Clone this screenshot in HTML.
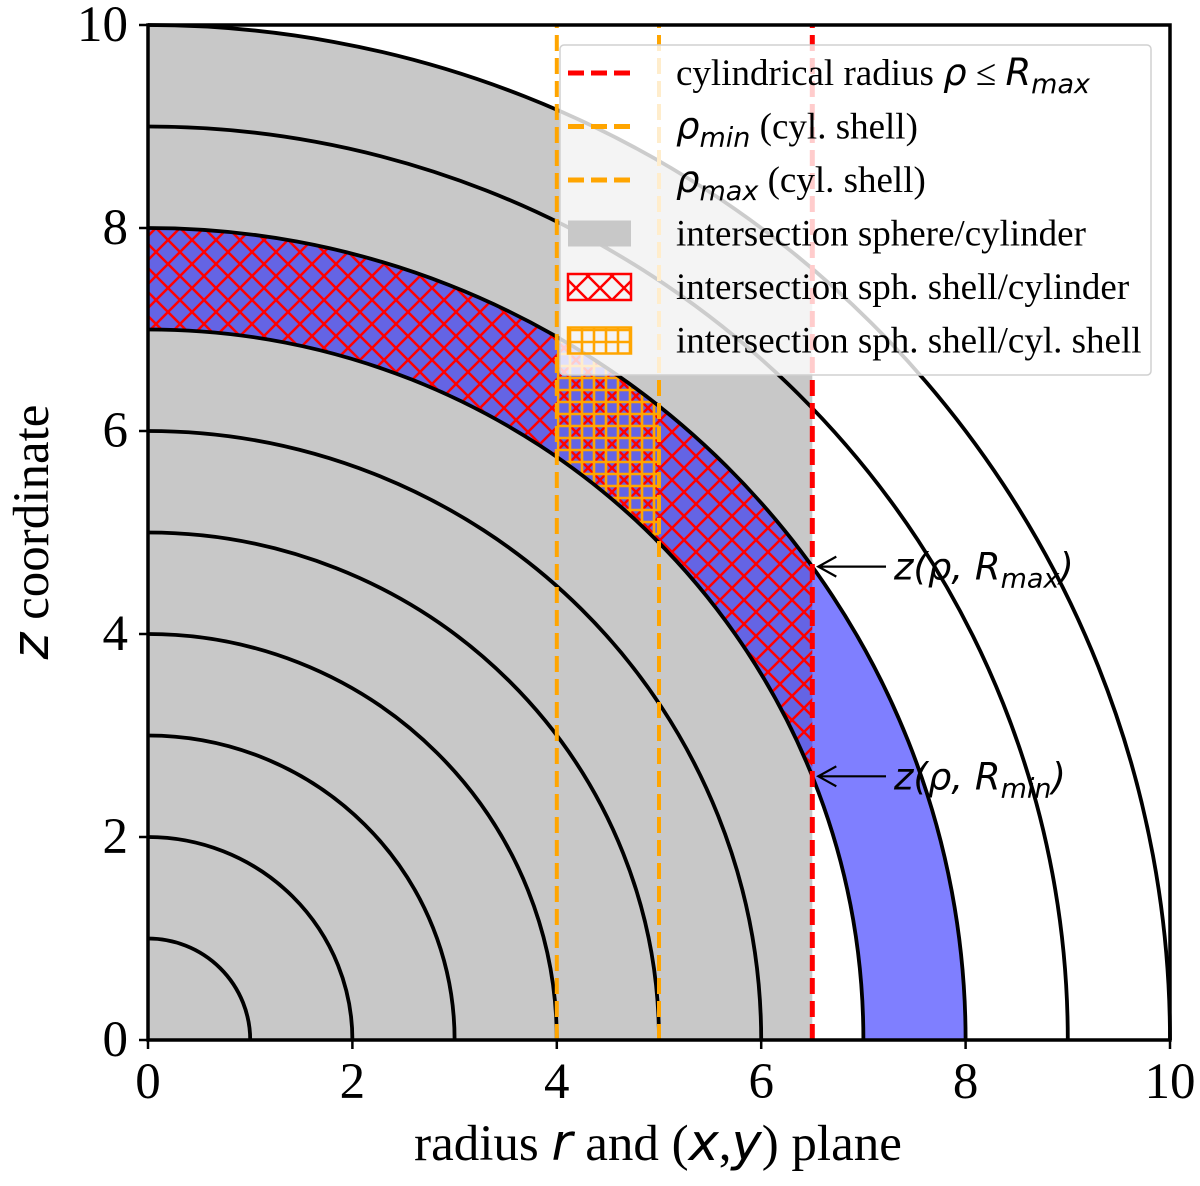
<!DOCTYPE html>
<html><head><meta charset="utf-8"><style>
html,body{margin:0;padding:0;background:#fff;}
svg{display:block;font-family:"Liberation Serif",serif;}
</style></head><body>
<svg id="chart" width="1200" height="1186" viewBox="0 0 1200 1186">
<defs>
<pattern id="xhatch" patternUnits="userSpaceOnUse" width="24" height="24">
<path d="M0,0L24,24M24,0L0,24" stroke="#ff0000" stroke-width="2.5" fill="none"/>
</pattern>
<pattern id="phatch" patternUnits="userSpaceOnUse" width="12" height="12">
<path d="M6,0V12M0,6H12" stroke="#ffa500" stroke-width="2.6" fill="none"/>
</pattern>
</defs>
<g id="plot"></g>
<text x="658" y="1160" font-size="51" text-anchor="middle">radius <tspan font-family="'DejaVu Sans',sans-serif" font-style="italic">r</tspan> and  (<tspan font-family="'DejaVu Sans',sans-serif" font-style="italic">x</tspan>,<tspan font-family="'DejaVu Sans',sans-serif" font-style="italic">y</tspan>) plane</text>
<text transform="translate(48,532) rotate(-90)" font-size="51" text-anchor="middle"><tspan font-family="'DejaVu Sans',sans-serif" font-style="italic">z</tspan> coordinate</text>
</svg>
<script>
const radii=[1,2,3,4,5,6,7,8,9,10];
const xTicks=[0,2,4,6,8,10];
const yTicks=[0,2,4,6,8,10];
const cylRmax=6.5;
const shellRhoMin=4, shellRhoMax=5;
const sphRmin=7, sphRmax=8;
const outerR=10;
const annotations=[{label:"max",z:Math.sqrt(sphRmax*sphRmax-cylRmax*cylRmax)},{label:"min",z:Math.sqrt(sphRmin*sphRmin-cylRmax*cylRmax)}];

const NS="http://www.w3.org/2000/svg";
const X=v=>148+v*102.2, Y=v=>1040-v*101.5;
const g=document.getElementById('plot');
function el(tag,attrs,parent){const e=document.createElementNS(NS,tag);for(const k in attrs)e.setAttribute(k,attrs[k]);(parent||g).appendChild(e);return e;}
function quarter(r){return `M${X(r)},${Y(0)} A${r*102.2},${r*101.5} 0 0 0 ${X(0)},${Y(r)}`;}
function disk(r){return quarter(r)+` L${X(0)},${Y(0)} Z`;}
function annulus(r1,r2){return `M${X(r2)},${Y(0)} A${r2*102.2},${r2*101.5} 0 0 0 ${X(0)},${Y(r2)} L${X(0)},${Y(r1)} A${r1*102.2},${r1*101.5} 0 0 1 ${X(r1)},${Y(0)} Z`;}
const defs=document.querySelector('defs');
function clip(id,x0,x1){const c=el('clipPath',{id:id},defs);el('rect',{x:X(x0),y:Y(outerR),width:X(x1)-X(x0),height:Y(0)-Y(outerR)},c);}
clip('cCyl',0,cylRmax);clip('cShell',shellRhoMin,shellRhoMax);

let e;
e=el('path',{d:disk(outerR),fill:'#c8c8c8','clip-path':'url(#cCyl)'});


e=el('path',{d:annulus(sphRmin,sphRmax),fill:'#0000ff','fill-opacity':0.5});


e=el('path',{d:annulus(sphRmin,sphRmax),fill:'url(#xhatch)','clip-path':'url(#cCyl)'});


e=el('path',{d:annulus(sphRmin,sphRmax),fill:'url(#phatch)','clip-path':'url(#cShell)'});


radii.forEach(r=>{
 const c=el('path',{d:quarter(r),fill:'none',stroke:'#000','stroke-width':3.8});
 
 
});
[[shellRhoMin,'#ffa500','rho-min-line'],[shellRhoMax,'#ffa500','rho-max-line'],[cylRmax,'#ff0000','cyl-rmax-line']].forEach(([v,c,n])=>{
 const l=el('line',{x1:X(v),x2:X(v),y1:Y(0),y2:Y(outerR),stroke:c,'stroke-width':c==='#ff0000'?5:4,'stroke-dasharray':'16 7'});
 
 
});
annotations.forEach(a=>{
 const y=Y(a.z);
 const ln=el('path',{d:`M886,${y} L${X(cylRmax)+6},${y} M${X(cylRmax)+24},${y-10} L${X(cylRmax)+6},${y} L${X(cylRmax)+24},${y+10}`,fill:'none',stroke:'#000','stroke-width':2.2});
 
 
 const t=el('text',{x:894,y:y+13,'font-size':37,'font-family':"'DejaVu Sans',sans-serif",'font-style':'italic'});
 t.innerHTML=`z(ρ, R<tspan font-size="27" dy="8">${a.label}</tspan><tspan dy="-8">)</tspan>`;
 
 
});
// legend
const lg=el('g',{});


el('rect',{x:560,y:45,width:591,height:330,rx:4,fill:'#fff','fill-opacity':0.8,stroke:'#d0d0d0','stroke-width':1.5},lg);
const items=[
 ['line','#ff0000','cylindrical radius <tspan font-family="\'DejaVu Sans\',sans-serif" font-style="italic">ρ</tspan> ≤ <tspan font-family="\'DejaVu Sans\',sans-serif" font-style="italic">R<tspan font-size="27" dy="8">max</tspan></tspan>'],
 ['line','#ffa500','<tspan font-family="\'DejaVu Sans\',sans-serif" font-style="italic">ρ<tspan font-size="27" dy="8">min</tspan></tspan><tspan dy="-8"> (cyl. shell)</tspan>'],
 ['line','#ffa500','<tspan font-family="\'DejaVu Sans\',sans-serif" font-style="italic">ρ<tspan font-size="27" dy="8">max</tspan></tspan><tspan dy="-8"> (cyl. shell)</tspan>'],
 ['gray','','intersection sphere/cylinder'],
 ['x','','intersection sph. shell/cylinder'],
 ['p','','intersection sph. shell/cyl. shell']];
items.forEach((it,i)=>{
 const cy=73+i*53.5;
 let s;
 if(it[0]==='line'){s=el('line',{x1:568,x2:631,y1:cy,y2:cy,stroke:it[1],'stroke-width':5,'stroke-dasharray':'16 7'},lg);}
 else if(it[0]==='gray'){s=el('rect',{x:568,y:cy-13,width:63,height:26,fill:'#c8c8c8'},lg);}
 else if(it[0]==='x'){s=el('rect',{x:568,y:cy-13,width:63,height:26,fill:'url(#xhatch)',stroke:'#ff0000','stroke-width':2.5},lg);}
 else {s=el('rect',{x:568,y:cy-13,width:63,height:26,fill:'url(#phatch)',stroke:'#ffa500','stroke-width':2.5},lg);}
 
 
 const t=el('text',{x:676,y:cy+12,'font-size':37},lg);
 t.innerHTML=it[2];
 
 
});
// axes frame
e=el('rect',{x:X(0),y:Y(10),width:X(10)-X(0),height:Y(0)-Y(10),fill:'none',stroke:'#000','stroke-width':3.5});


xTicks.forEach(v=>{
 const t=el('line',{x1:X(v),x2:X(v),y1:Y(0),y2:Y(0)+9,stroke:'#000','stroke-width':2.5});
 
 
 const l=el('text',{x:X(v),y:1098,'font-size':51,'text-anchor':'middle'});l.textContent=v;
 
 
});
yTicks.forEach(v=>{
 const t=el('line',{x1:X(0)-9,x2:X(0),y1:Y(v),y2:Y(v),stroke:'#000','stroke-width':2.5});
 
 
 const l=el('text',{x:128,y:Y(v)+16,'font-size':51,'text-anchor':'end'});l.textContent=v;
 
 
});
</script>
</body></html>
